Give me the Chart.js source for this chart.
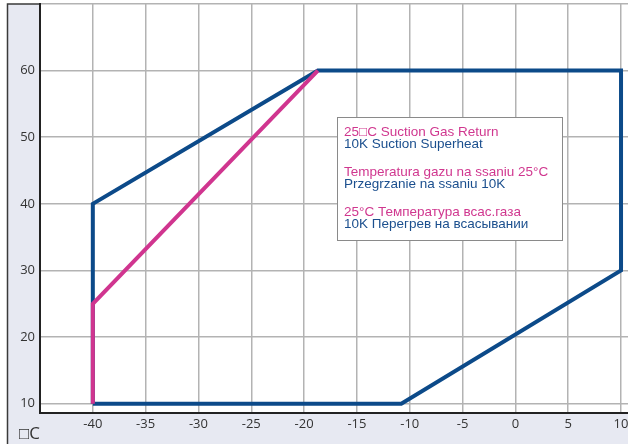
<!doctype html>
<html lang="en">
<head>
    <meta charset="utf-8">
    <title>Chart</title>
    <script src="https://cdn.jsdelivr.net/npm/chart.js@4.4.1/dist/chart.umd.min.js"></script>
    <style>
      html, body { margin: 0; padding: 0; background: #ffffff; }
      #chartContainer { width: 628px; height: 444px; }
    </style>
</head>
<body>
    <div id="chartContainer"><canvas id="myChart" width="628" height="444"></canvas></div>
    <script type="text/javascript">
      // envelope outline (evaporating temp, condensing temp)
      const blueX = [-40, -40, -18.7, 10, 10, -10.8, -40];
      const blueY = [10, 40, 60, 60, 30, 10, 10];
      // 25C suction gas return limit
      const pinkX = [-40, -40, -18.7];
      const pinkY = [10, 25, 60];

      const xTicks = [-45, -40, -35, -30, -25, -20, -15, -10, -5, 0, 5, 10];
      const yTicks = [10, 20, 30, 40, 50, 60, 70];

      const legendLines = [
        ["25\u25A1C Suction Gas Return", "#d0378f"],
        ["10K Suction Superheat", "#1b4f8e"],
        ["", ""],
        ["Temperatura gazu na ssaniu 25°C", "#d0378f"],
        ["Przegrzanie na ssaniu 10K", "#1b4f8e"],
        ["", ""],
        ["25°C Температура всас.газа", "#d0378f"],
        ["10K Перегрев на всасывании", "#1b4f8e"]
      ];

      const toPoints = (xs, ys) => xs.map((x, i) => ({x: x, y: ys[i]}));

      // no extra room for half tick labels at the ends
      const noEdgePadding = (scale) => {
        scale.paddingLeft = 0;
        scale.paddingRight = 0;
        scale.paddingTop = 0;
        scale.paddingBottom = 0;
      };

      const framePlugin = {
        id: 'frame',
        beforeDraw(chart) {
          const ctx = chart.ctx;
          const a = chart.chartArea;
          ctx.save();
          ctx.fillStyle = '#ffffff';
          ctx.fillRect(0, 0, chart.width, chart.height);
          ctx.fillStyle = '#e7e9f2';
          ctx.fillRect(7, 4, chart.width - 7, chart.height - 4);
          ctx.strokeStyle = '#3a3a3a';
          ctx.lineWidth = 1.5;
          ctx.beginPath();
          ctx.moveTo(7.5, chart.height);
          ctx.lineTo(7.5, 4);
          ctx.lineTo(chart.width, 4);
          ctx.stroke();
          ctx.fillStyle = '#ffffff';
          ctx.fillRect(a.left, a.top, a.right - a.left, a.bottom - a.top);
          ctx.restore();
        },
        afterDraw(chart) {
          const ctx = chart.ctx;
          ctx.save();
          // note box
          ctx.fillStyle = '#ffffff';
          ctx.fillRect(337, 117, 225, 124);
          ctx.strokeStyle = '#8a8a8a';
          ctx.lineWidth = 1;
          ctx.strokeRect(337.5, 117.5, 225, 123);
          ctx.font = '13.5px "Liberation Sans"';
          ctx.textBaseline = 'middle';
          ctx.textAlign = 'left';
          let y = 132;
          legendLines.forEach(function(l) {
            if (l[0] !== "") {
              ctx.fillStyle = l[1];
              ctx.fillText(l[0], 344, y);
            }
            y += l[0] === "" ? 14.8 : 12.6;
          });
          // unit label
          ctx.fillStyle = '#333333';
          ctx.font = '17px "Open Sans"';
          ctx.textBaseline = 'middle';
          ctx.fillText('\u25A1C', 19, 434);
          ctx.restore();
        }
      };

      const ctx = document.getElementById('myChart');
      new Chart(ctx, {
        type: 'scatter',
        data: {
          datasets: [
            {
              label: '25C',
              data: toPoints(pinkX, pinkY),
              showLine: true,
              borderColor: '#d0358f',
              borderWidth: 4,
              pointRadius: 0,
              borderJoinStyle: 'miter',
              order: 0
            },
            {
              label: 'envelope',
              data: toPoints(blueX, blueY),
              showLine: true,
              borderColor: '#0c4a89',
              borderWidth: 4,
              pointRadius: 0,
              borderJoinStyle: 'miter',
              order: 1
            }
          ]
        },
        options: {
          responsive: false,
          animation: false,
          layout: { padding: { left: 7, top: 4, right: 0, bottom: 0 } },
          plugins: { legend: { display: false }, tooltip: { enabled: false } },
          scales: {
            x: {
              type: 'linear',
              min: -45,
              max: 10.66,
              afterBuildTicks: (scale) => { scale.ticks = xTicks.map(v => ({value: v})); },
              afterFit: (scale) => { scale.height = 31; noEdgePadding(scale); },
              ticks: {
                callback: (v) => v === -45 ? '' : String(v),
                color: '#333333',
                font: { family: '"Open Sans"', size: 13 },
                padding: 3,
                maxRotation: 0
              },
              grid: { color: '#b3b3b3', lineWidth: 1.5, drawTicks: false },
              border: { color: '#222222', width: 2 }
            },
            y: {
              type: 'linear',
              min: 8.6,
              max: 70,
              afterBuildTicks: (scale) => { scale.ticks = yTicks.map(v => ({value: v})); },
              afterFit: (scale) => { scale.width = 33; noEdgePadding(scale); },
              ticks: {
                callback: (v) => v === 70 ? '' : String(v),
                color: '#333333',
                font: { family: '"Open Sans"', size: 13 },
                padding: 5
              },
              grid: { color: '#b3b3b3', lineWidth: 1.5, drawTicks: false },
              border: { color: '#222222', width: 2 }
            }
          }
        },
        plugins: [framePlugin]
      });
    </script>
</body>
</html>
